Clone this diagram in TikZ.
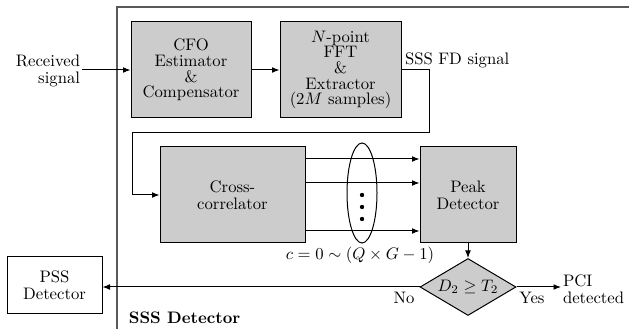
\documentclass[tikz,border=0pt]{standalone}
\usetikzlibrary{shapes.geometric,arrows.meta}
\begin{document}
\begin{tikzpicture}[x=0.6pt,y=-0.6pt,
  every node/.style={font=\fontsize{10pt}{10.3pt}\selectfont},
  blk/.style={draw, fill=gray!40, line width=0.6pt, align=center, inner sep=1pt},
  tight/.style={font=\fontsize{10pt}{9.4pt}\selectfont},
  arr/.style={-{Latex[length=4.5pt,width=3.5pt]}, line width=0.6pt},
  lbl/.style={inner sep=1pt, align=center}]
\useasboundingbox (0,0) rectangle (629,329);
% outer SSS detector frame
\draw[black!65, line width=0.9pt] (117,340) -- (117,7) -- (640,7);
\node[anchor=west, font=\bfseries] (sssl) at (123,318) {SSS Detector};
% blocks
\node[blk, tight, minimum width=72pt, minimum height=57.6pt] (cfo) at (191,70) {CFO\\Estimator\\\&\\Compensator};
\node[blk, tight, minimum width=72.6pt, minimum height=57.6pt] (fft) at (340.5,70) {$N$-point\\FFT\\\&\\Extractor\\$(2M$ samples)};
\node[blk, minimum width=87pt, minimum height=57.6pt] (cross) at (232.5,195) {Cross-\\correlator};
\node[blk, minimum width=57.6pt, minimum height=57.6pt] (peak) at (468,195) {Peak\\Detector};
\node[diamond, draw, fill=gray!40, line width=0.6pt, minimum width=57.6pt, minimum height=34.2pt, inner sep=0pt, shape aspect=1.68] (dia) at (468,287) {$D_2\geq T_2$};
\node[draw, fill=white, line width=0.6pt, align=center, minimum width=57pt, minimum height=34.2pt] (pss) at (54.5,285.5) {PSS\\Detector};
% texts
\node[lbl, anchor=east, align=right] (recv) at (82,71) {Received\\signal};
\node[lbl, anchor=west] (fd) at (403,60) {SSS FD signal};
\node[lbl] (clab) at (360,255) {$c=0\sim(Q\times G-1)$};
\node[lbl] (no) at (404,298) {No};
\node[lbl] (yes) at (532,298) {Yes};
\node[lbl, anchor=west, align=left] (pci) at (561,289) {PCI\\detected};
% ellipse with dots
\node[ellipse, draw, line width=0.6pt, minimum width=18pt, minimum height=60pt, inner sep=0pt] (ell) at (362,193) {};
\foreach \yy in {195,207,219} \fill (362,\yy) circle (1.3pt);
% connectors
\draw[arr] (recv.east |- cfo.west) -- (cfo.west);
\draw[arr] (cfo.east) -- (fft.west);
\coordinate (r1) at (429,133);
\coordinate (l1) at (132,133);
\draw[arr] (fft.east) -| (r1) -- (l1) |- (cross.west);
\coordinate (y1) at (0,159);
\coordinate (y2) at (0,183);
\coordinate (y3) at (0,231);
\foreach \c in {y1,y2,y3} \draw[arr] (cross.east |- \c) -- (peak.west |- \c);
\draw[arr] (peak.south) -- (dia.north);
\draw[arr] (dia.east) -- (pci.west |- dia.east);
\draw[arr] (dia.west) -- (pss.east |- dia.west);
\end{tikzpicture}
\end{document}
